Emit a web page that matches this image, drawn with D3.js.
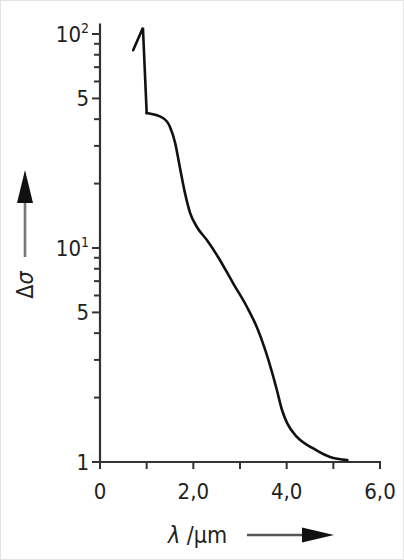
<!DOCTYPE html>
<html><head><meta charset="utf-8">
<script src="https://cdn.jsdelivr.net/npm/d3@7"></script>
<style>
html,body{margin:0;padding:0;background:#fff;}
svg{display:block;}
text{font-family:"Liberation Sans Narrow","DejaVu Sans Condensed","Arial Narrow",sans-serif;fill:#222;}
</style></head>
<body>
<svg id="chart" width="404" height="560"></svg>
<script>
// Data
const lambda = [0.71, 0.92, 1.00, 1.35, 1.50, 1.61, 1.71, 1.82, 1.93, 2.08, 2.29, 2.53, 2.85, 3.15, 3.36, 3.54, 3.69, 3.79, 3.90, 4.01, 4.22, 4.56, 4.93, 5.30];
const dSigma = [84, 107, 42.7, 40.5, 36.8, 31.0, 23.9, 18.1, 14.6, 12.5, 10.9, 9.08, 6.86, 5.30, 4.27, 3.34, 2.61, 2.17, 1.75, 1.52, 1.31, 1.16, 1.055, 1.02];
const xTickValues = [0, 1, 2, 3, 4, 5, 6];
const xTickLabels = ["0", "", "2,0", "", "4,0", "", "6,0"];
const yTickValues = [1, 2, 3, 4, 5, 6, 7, 8, 9, 10, 20, 30, 40, 50, 60, 70, 80, 90, 100];
const yLabelValues = [1, 5, 10, 50, 100];

const svg = d3.select("#chart");
svg.append("rect").attr("x",0.5).attr("y",0.5).attr("width",403).attr("height",559)
  .attr("fill","#fff").attr("stroke","#e2e2e2");

const x = d3.scaleLinear().domain([0, 6]).range([100, 380]);
const y = d3.scaleLog().domain([1, 100]).range([462, 34]);

const axisColor = "#333";

// Y axis
const gy = svg.append("g").attr("transform", `translate(${x(0)},0)`);
gy.append("line").attr("x1",0).attr("x2",0).attr("y1",y(1)+1).attr("y2",y(112))
  .attr("stroke",axisColor).attr("stroke-width",2.2);
gy.selectAll("line.tk").data(yTickValues).join("line").attr("class","tk")
  .attr("x1", d => yLabelValues.includes(d) ? -8 : -6).attr("x2",0)
  .attr("y1", d => y(d)).attr("y2", d => y(d))
  .attr("stroke",axisColor).attr("stroke-width",2);

function yLabel(v, main, sup) {
  const t = gy.append("text").attr("x",-11).attr("y",y(v)+7.5)
    .attr("text-anchor","end").attr("font-size",22);
  t.append("tspan").text(main);
  if (sup) t.append("tspan").attr("dy",-9).attr("font-size",14).text(sup);
}
yLabel(100, "10", "2");
yLabel(50, "5");
yLabel(10, "10", "1");
yLabel(5, "5");
yLabel(1, "1");

// X axis
const gx = svg.append("g").attr("transform", `translate(0,${y(1)})`);
gx.append("line").attr("x1",x(0)-1).attr("x2",x(6)+1).attr("y1",0).attr("y2",0)
  .attr("stroke",axisColor).attr("stroke-width",2.2);
gx.selectAll("line.tk").data(xTickValues).join("line").attr("class","tk")
  .attr("x1", d => x(d)).attr("x2", d => x(d)).attr("y1",0).attr("y2",7)
  .attr("stroke",axisColor).attr("stroke-width",2);
gx.selectAll("text.tl").data(xTickValues).join("text").attr("class","tl")
  .attr("x", d => x(d)).attr("y",37).attr("text-anchor","middle")
  .attr("font-size",22).text((d,i) => xTickLabels[i]);

// Curve: sharp spike (linear) then smooth decay
const pts = lambda.map((l,i) => [l, dSigma[i]]);
const lineGen = d3.line().x(d => x(d[0])).y(d => y(d[1]));
svg.append("path").datum(pts.slice(0,3))
  .attr("d", lineGen.curve(d3.curveLinear))
  .attr("fill","none").attr("stroke","#111").attr("stroke-width",2.6)
  .attr("stroke-linejoin","miter").attr("stroke-linecap","round");
svg.append("path").datum(pts.slice(2))
  .attr("d", lineGen.curve(d3.curveMonotoneX))
  .attr("fill","none").attr("stroke","#111").attr("stroke-width",2.6)
  .attr("stroke-linejoin","round").attr("stroke-linecap","round");

// X title with arrow
const xt = svg.append("text").attr("x",168).attr("y",543).attr("font-size",23);
xt.append("tspan").attr("font-style","italic").text("λ");
xt.append("tspan").text(" /µm");
svg.append("line").attr("x1",247).attr("x2",304).attr("y1",535).attr("y2",535)
  .attr("stroke","#555").attr("stroke-width",2.4);
svg.append("path").attr("d","M302,527.5 L334,535 L302,542.5 Z").attr("fill","#111");

// Y title with arrow
svg.append("text").attr("transform","translate(33,285) rotate(-90)")
  .attr("text-anchor","middle").attr("font-size",23)
  .html('<tspan>Δ</tspan><tspan font-style="italic">σ</tspan>');
svg.append("line").attr("x1",25).attr("x2",25).attr("y1",257).attr("y2",200)
  .attr("stroke","#777").attr("stroke-width",2.6);
svg.append("path").attr("d","M17,203 L25,170 L33,203 Z").attr("fill","#111");
</script>
</body></html>
